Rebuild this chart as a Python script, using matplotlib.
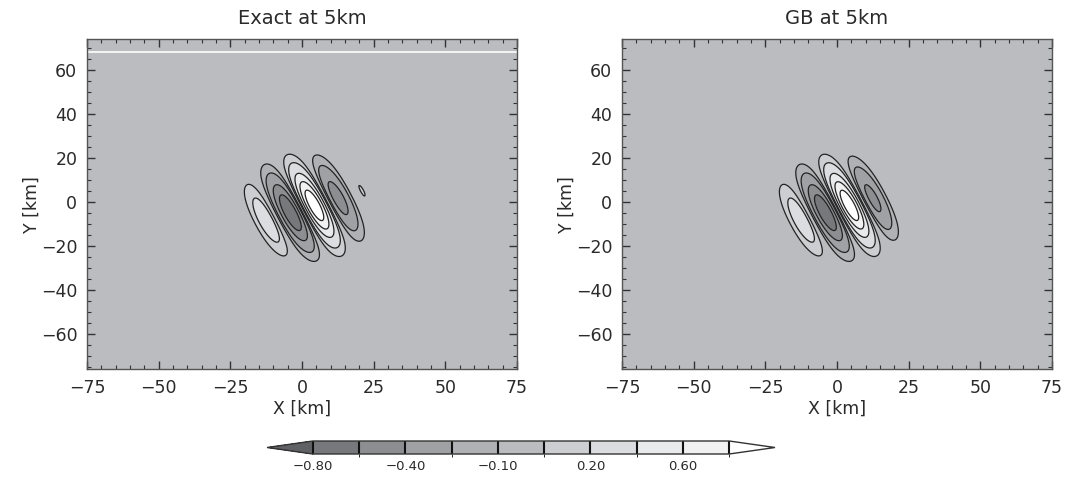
import numpy as np
import matplotlib
matplotlib.use("Agg")
import matplotlib.pyplot as plt
from matplotlib.colors import ListedColormap, BoundaryNorm

# ---- data / parameters ----
titles = ["Exact at 5km", "GB at 5km"]
levels = [-0.80, -0.60, -0.40, -0.20, -0.10, 0.10, 0.20, 0.40, 0.60, 0.80]
cbar_labels = [-0.80, -0.40, -0.10, 0.20, 0.60]
fill_colors = ["#77787c", "#8d8e92", "#a0a1a5", "#b0b1b5", "#bbbcc0",
               "#cdced1", "#dcdde0", "#e9eaeb", "#f1f1f2"]
under_color = "#606165"
over_color = "#ffffff"
x_ticks = [-75, -50, -25, 0, 25, 50, 75]
y_ticks = [-60, -40, -20, 0, 20, 40, 60]
x_range = [-75, 75]
y_range = [-76, 74]

# wave-packet parameters (per panel), read from lobe positions/extents
amp = [1.0, 1.0]
phase_x0 = [4.5, 4.5]          # centre of the bright central lobe
phase_y0 = [-1.5, -1.5]
wavelength = [19.5, 19.5]      # distance between like-signed lobes
tilt = [0.40, 0.40]            # slope of the wave vector (dy/dx)
env_shift = [-2.0, -2.0]       # envelope centre offset along the wave vector
env_lu_left = [15.5, 15.5]     # envelope width (upstream side)
env_lu_right = [13.6, 12.8]    # envelope width (downstream side)
env_lv = [16.5, 16.5]          # envelope width along the phase lines

nx, ny = 401, 401
xs = np.linspace(x_range[0], x_range[1], nx)
ys = np.linspace(y_range[0], y_range[1], ny)
X, Y = np.meshgrid(xs, ys)


def field(i):
    n = np.hypot(1.0, tilt[i])
    kx, ky = 1.0 / n, tilt[i] / n
    dx, dy = X - phase_x0[i], Y - phase_y0[i]
    u = kx * dx + ky * dy
    v = -ky * dx + kx * dy
    du = u - env_shift[i]
    lu = np.where(du < 0, env_lu_left[i], env_lu_right[i])
    env = np.exp(-(du / lu) ** 2 - (v / env_lv[i]) ** 2)
    return amp[i] * env * np.cos(2 * np.pi * u / wavelength[i])


cmap = ListedColormap(fill_colors)
cmap.set_under(under_color)
cmap.set_over(over_color)
norm = BoundaryNorm(levels, cmap.N)

plt.rcParams["font.family"] = ["DejaVu Sans"]
fig = plt.figure(figsize=(10.66, 4.78), dpi=100)
axes_pos = [[0.0816, 0.228, 0.4034, 0.690], [0.5835, 0.228, 0.4034, 0.690]]
text_col = "#2a2a2a"

cs = None
for i in range(2):
    ax = fig.add_axes(axes_pos[i])
    Z = field(i)
    cs = ax.contourf(X, Y, Z, levels=levels, cmap=cmap, norm=norm, extend="both")
    ax.contour(X, Y, Z, levels=levels, colors="#222222", linewidths=0.9,
               linestyles="solid", negative_linestyles="solid")
    if i == 0:
        ax.axhline(68, color="white", lw=1.2)
    ax.set_xlim(x_range)
    ax.set_ylim(y_range)
    ax.set_xticks(x_ticks)
    ax.set_yticks(y_ticks)
    ax.set_xticks(np.arange(-75, 76, 5), minor=True)
    ax.set_yticks(np.arange(-75, 75, 5), minor=True)
    ax.set_xticklabels(["\u221275", "\u221250", "\u221225", "0", "25", "50", "75"])
    ax.set_yticklabels(["\u221260", "\u221240", "\u221220", "0", "20", "40", "60"])
    ax.tick_params(which="both", direction="in", top=True, right=True,
                   colors="#333333", labelcolor=text_col, labelsize=12.5)
    ax.tick_params(which="major", length=6, width=1.0, pad=7)
    ax.tick_params(which="minor", length=3, width=0.8)
    for s in ax.spines.values():
        s.set_color("#555555")
        s.set_linewidth(1.0)
    ax.set_title(titles[i], fontsize=14, color=text_col, pad=11)
    ax.set_xlabel("X [km]", fontsize=12.5, color=text_col, labelpad=2)
    ax.set_ylabel("Y [km]", fontsize=12.5, color=text_col, labelpad=0)

cax = fig.add_axes([0.2505, 0.0502, 0.4765, 0.0272])
cb = fig.colorbar(cs, cax=cax, orientation="horizontal", drawedges=True,
                  extendfrac=0.11, ticks=cbar_labels)
cb.ax.set_xticklabels(["\u22120.80", "\u22120.40", "\u22120.10", "0.20", "0.60"])
cb.ax.tick_params(length=0, labelsize=9.5, labelcolor=text_col, pad=4)
cb.outline.set_color("#333333")
cb.outline.set_linewidth(1.0)
cb.dividers.set_color("#111111")
cb.dividers.set_linewidth(1.5)

fig.savefig("out.png", dpi=100)
